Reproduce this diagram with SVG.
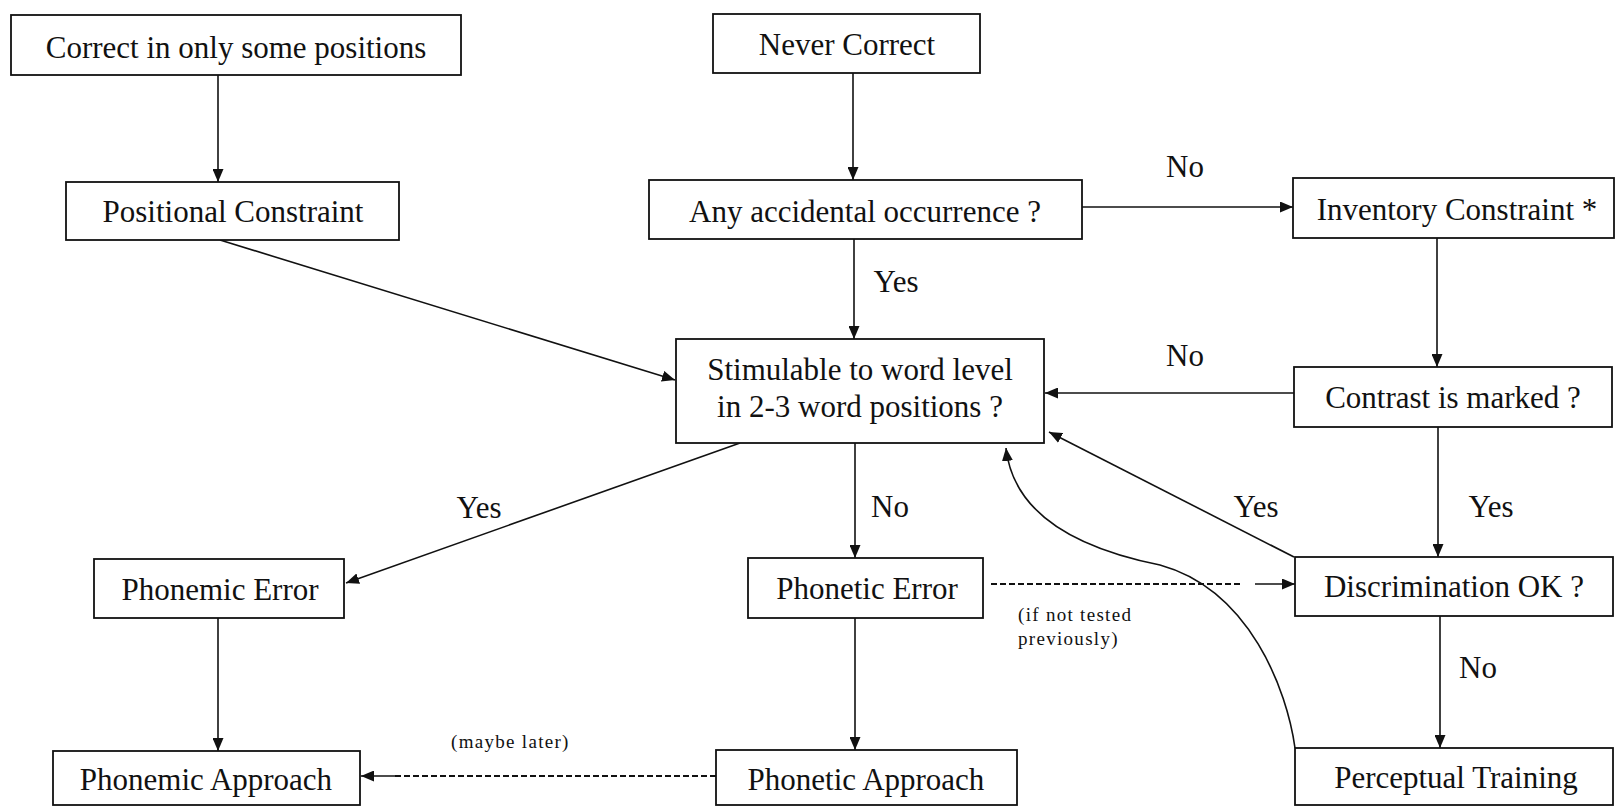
<svg xmlns="http://www.w3.org/2000/svg" width="1619" height="807" viewBox="0 0 1619 807">
<style>
.box{fill:#fff;stroke:#111;stroke-width:1.8}
.t{font-family:"Liberation Serif","Times New Roman",serif;font-size:31px;fill:#111;text-anchor:middle}
.s{font-family:"Liberation Serif","Times New Roman",serif;font-size:19px;fill:#111;letter-spacing:1.3px}
.c{fill:none;stroke:#111;stroke-width:1.6}
.d{fill:none;stroke:#111;stroke-width:2;stroke-dasharray:6 3}
</style>
<defs>
<marker id="ah" markerUnits="userSpaceOnUse" markerWidth="13" markerHeight="11" viewBox="0 0 13 11" refX="13" refY="5.5" orient="auto">
<path d="M0,0 L13,5.5 L0,11 z" fill="#111"/>
</marker>
</defs>
<rect width="1619" height="807" fill="#fff"/>

<g id="connectors">
<line class="c" x1="218" y1="75" x2="218" y2="182" marker-end="url(#ah)"/>
<line class="c" x1="853" y1="73" x2="853" y2="180" marker-end="url(#ah)"/>
<line class="c" x1="1082" y1="207" x2="1293" y2="207" marker-end="url(#ah)"/>
<line class="c" x1="854" y1="239" x2="854" y2="339" marker-end="url(#ah)"/>
<line class="c" x1="220" y1="240" x2="675" y2="380" marker-end="url(#ah)"/>
<line class="c" x1="1437" y1="238" x2="1437" y2="367" marker-end="url(#ah)"/>
<line class="c" x1="1294" y1="393" x2="1045" y2="393" marker-end="url(#ah)"/>
<line class="c" x1="1438" y1="427" x2="1438" y2="557" marker-end="url(#ah)"/>
<line class="c" x1="1294" y1="557" x2="1049" y2="432" marker-end="url(#ah)"/>
<line class="c" x1="740" y1="443" x2="346" y2="583" marker-end="url(#ah)"/>
<line class="c" x1="855" y1="443" x2="855" y2="558" marker-end="url(#ah)"/>
<line class="d" x1="991" y1="584" x2="1241" y2="584"/>
<line class="c" x1="1255" y1="584" x2="1295" y2="584" marker-end="url(#ah)"/>
<line class="c" x1="1440" y1="616" x2="1440" y2="748" marker-end="url(#ah)"/>
<path class="c" d="M1295,748 C1287,690 1250,590 1160,565 C1110,555 1015,530 1006,448" marker-end="url(#ah)"/>
<line class="c" x1="218" y1="618" x2="218" y2="751" marker-end="url(#ah)"/>
<line class="c" x1="855" y1="618" x2="855" y2="750" marker-end="url(#ah)"/>
<line class="d" x1="716" y1="776" x2="395" y2="776"/>
<line class="c" x1="396" y1="776" x2="361" y2="776" marker-end="url(#ah)"/>
</g>

<g id="labels">
<text class="t" x="1185" y="177">No</text>
<text class="t" x="896" y="292">Yes</text>
<text class="t" x="1185" y="366">No</text>
<text class="t" x="479" y="518">Yes</text>
<text class="t" x="890" y="517">No</text>
<text class="t" x="1256" y="517">Yes</text>
<text class="t" x="1491" y="517">Yes</text>
<text class="t" x="1478" y="678">No</text>
<text class="s" x="1018" y="621">(if not tested</text>
<text class="s" x="1018" y="645">previously)</text>
<text class="s" x="451" y="748">(maybe later)</text>
</g>

<g id="n-correct-some"><rect class="box" x="11" y="15" width="450" height="60"/><text class="t" x="236" y="58">Correct in only some positions</text></g>
<g id="n-never"><rect class="box" x="713" y="14" width="267" height="59"/><text class="t" x="847" y="55">Never Correct</text></g>
<g id="n-positional"><rect class="box" x="66" y="182" width="333" height="58"/><text class="t" x="233" y="222">Positional Constraint</text></g>
<g id="n-accidental"><rect class="box" x="649" y="180" width="433" height="59"/><text class="t" x="865" y="222">Any accidental occurrence ?</text></g>
<g id="n-inventory"><rect class="box" x="1293" y="178" width="321" height="60"/><text class="t" x="1457" y="220">Inventory Constraint *</text></g>
<g id="n-stimulable"><rect class="box" x="676" y="339" width="368" height="104"/><text class="t" x="860" y="380">Stimulable to word level</text><text class="t" x="860" y="417">in 2-3 word positions ?</text></g>
<g id="n-contrast"><rect class="box" x="1294" y="367" width="318" height="60"/><text class="t" x="1453" y="408">Contrast is marked ?</text></g>
<g id="n-phonemic-error"><rect class="box" x="94" y="559" width="250" height="59"/><text class="t" x="220" y="600">Phonemic Error</text></g>
<g id="n-phonetic-error"><rect class="box" x="748" y="558" width="235" height="60"/><text class="t" x="867" y="599">Phonetic Error</text></g>
<g id="n-discrimination"><rect class="box" x="1295" y="557" width="318" height="59"/><text class="t" x="1454" y="597">Discrimination OK ?</text></g>
<g id="n-phonemic-approach"><rect class="box" x="53" y="751" width="307" height="54"/><text class="t" x="206" y="790">Phonemic Approach</text></g>
<g id="n-phonetic-approach"><rect class="box" x="716" y="750" width="301" height="55"/><text class="t" x="866" y="790">Phonetic Approach</text></g>
<g id="n-perceptual"><rect class="box" x="1295" y="748" width="318" height="57"/><text class="t" x="1456" y="788">Perceptual Training</text></g>
</svg>
